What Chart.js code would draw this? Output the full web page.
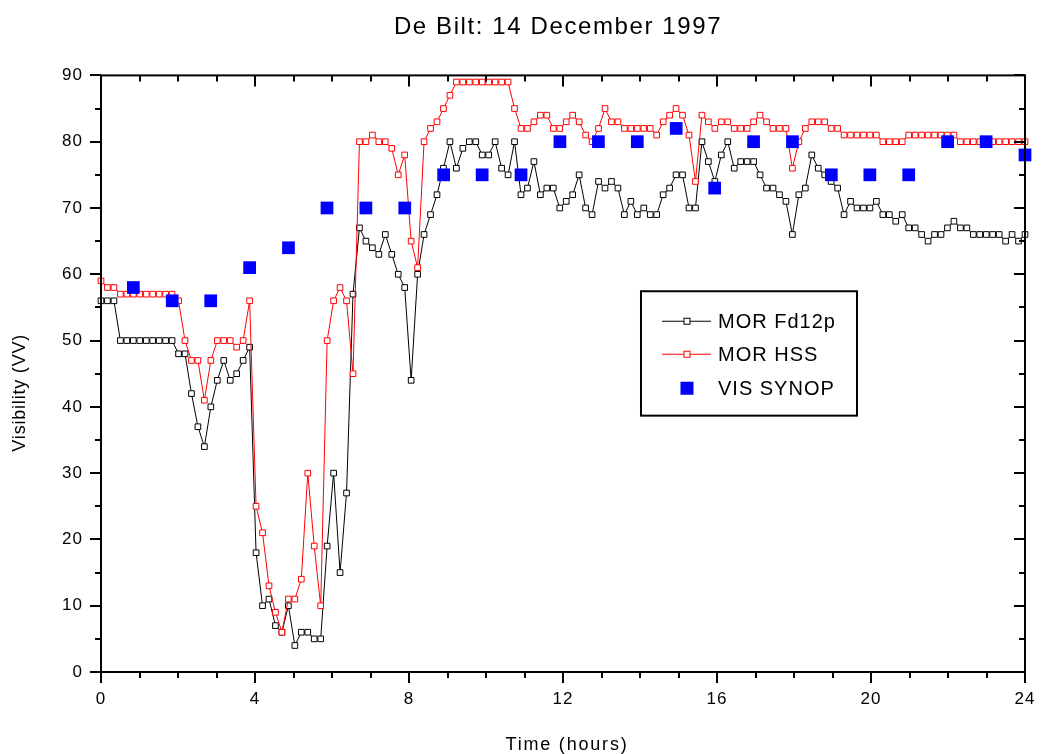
<!DOCTYPE html>
<html>
<head>
<meta charset="utf-8">
<script src="https://cdn.jsdelivr.net/npm/chart.js@4.4.0/dist/chart.umd.min.js"></script>
<style>
    html, body { margin: 0; padding: 0; background: #fff; }
</style>
</head>
<body>
<canvas id="myChart" width="1042" height="754"></canvas>
<script>
// 10-minute samples over the day
const morFd12p = [
    56, 56, 56, 50, 50, 50, 50, 50, 50, 50, 50, 50, 48, 48, 42, 37, 34, 40, 44, 47,
    44, 45, 47, 49, 18, 10, 11, 7, 6, 10, 4, 6, 6, 5, 5, 19, 30, 15, 27, 57,
    67, 65, 64, 63, 66, 63, 60, 58, 44, 60, 66, 69, 72, 76, 80, 76, 79, 80, 80, 78,
    78, 80, 76, 75, 80, 72, 73, 77, 72, 73, 73, 70, 71, 72, 75, 70, 69, 74, 73, 74,
    73, 69, 71, 69, 70, 69, 69, 72, 73, 75, 75, 70, 70, 80, 77, 74, 78, 80, 76, 77,
    77, 77, 75, 73, 73, 72, 71, 66, 72, 73, 78, 76, 75, 74, 73, 69, 71, 70, 70, 70,
    71, 69, 69, 68, 69, 67, 67, 66, 65, 66, 66, 67, 68, 67, 67, 66, 66, 66, 66, 66,
    65, 66, 65, 66
];
const morHss = [
    59, 58, 58, 57, 57, 57, 57, 57, 57, 57, 57, 57, 56, 50, 47, 47, 41, 47, 50, 50,
    50, 49, 50, 56, 25, 21, 13, 9, 6, 11, 11, 14, 30, 19, 10, 50, 56, 58, 56, 45,
    80, 80, 81, 80, 80, 79, 75, 78, 65, 61, 80, 82, 83, 85, 87, 89, 89, 89, 89, 89,
    89, 89, 89, 89, 85, 82, 82, 83, 84, 84, 82, 82, 83, 84, 83, 81, 80, 82, 85, 83,
    83, 82, 82, 82, 82, 82, 81, 83, 84, 85, 84, 81, 74, 84, 83, 82, 83, 83, 82, 82,
    82, 83, 84, 83, 82, 82, 82, 76, 80, 82, 83, 83, 83, 82, 82, 81, 81, 81, 81, 81,
    81, 80, 80, 80, 80, 81, 81, 81, 81, 81, 81, 81, 81, 80, 80, 80, 80, 80, 80, 80,
    80, 80, 80, 80
];
const stepHours = 24 / 143;

// hourly synop observations
const synopHours = [0.84, 1.85, 2.85, 3.86, 4.87, 5.87, 6.88, 7.89, 8.9, 9.9, 10.91, 11.92,
    12.92, 13.93, 14.94, 15.94, 16.95, 17.96, 18.97, 19.97, 20.98, 21.99, 22.99, 24.0];
const visSynop = [58, 56, 56, 61, 64, 70, 70, 70, 75, 75, 75, 80,
    80, 80, 82, 73, 80, 80, 75, 75, 75, 80, 80, 78];

const xTickStep = 4;
const yTickStep = 10;

const chartTitle = 'De Bilt: 14 December 1997';
const xTitle = 'Time (hours)';
const yTitle = 'Visibility (VV)';
const legendItems = ['MOR Fd12p', 'MOR HSS', 'VIS SYNOP'];

const FONT = 'Arial, "Liberation Sans", Helvetica, sans-serif';
Chart.defaults.font.family = FONT;
Chart.defaults.color = '#000';

// wider letter spacing for the tick labels
const spacing = {
    id: 'spacing',
    beforeDraw(chart) {
        chart.ctx.letterSpacing = '1px';
    }
};

// axis box, major/minor ticks (left+bottom outward, top+right inward)
const frame = {
    id: 'frame',
    afterDraw(chart) {
        const ctx = chart.ctx;
        const { left, right, top, bottom } = chart.chartArea;
        const xs = chart.scales.x, ys = chart.scales.y;
        ctx.save();
        ctx.strokeStyle = '#000';
        ctx.lineWidth = 2;
        ctx.beginPath();
        for (let h = 0; h <= 24; h++) {
            const px = Math.round(xs.getPixelForValue(h));
            const len = h % xTickStep === 0 ? 11 : 6;
            ctx.moveTo(px, bottom); ctx.lineTo(px, bottom + len);
            ctx.moveTo(px, top); ctx.lineTo(px, top + len);
        }
        for (let v = 0; v <= 90; v += 5) {
            const py = Math.round(ys.getPixelForValue(v));
            const len = v % yTickStep === 0 ? 11 : 6;
            ctx.moveTo(left - len, py); ctx.lineTo(left, py);
            ctx.moveTo(right - len, py); ctx.lineTo(right, py);
        }
        ctx.stroke();
        ctx.strokeRect(left, top, right - left, bottom - top);
        ctx.restore();
    }
};

// title and axis titles
const titles = {
    id: 'titles',
    afterDraw(chart) {
        const ctx = chart.ctx;
        const a = chart.chartArea;
        const cx = (a.left + a.right) / 2;
        ctx.save();
        ctx.fillStyle = '#000';
        ctx.textAlign = 'center';
        ctx.textBaseline = 'middle';
        ctx.letterSpacing = '1.6px';
        ctx.font = '24px ' + FONT;
        ctx.fillText(chartTitle, cx - 5, 27);
        ctx.letterSpacing = '1.8px';
        ctx.font = '18px ' + FONT;
        ctx.fillText(xTitle, cx + 4, 745);
        ctx.letterSpacing = '0.8px';
        ctx.translate(20, a.top + (a.bottom - a.top) * 0.532);
        ctx.rotate(-Math.PI / 2);
        ctx.fillText(yTitle, 0, 0);
        ctx.restore();
    }
};

// boxed legend inside the plot
const boxLegend = {
    id: 'boxLegend',
    afterDraw(chart) {
        const ctx = chart.ctx;
        const a = chart.chartArea;
        const w = a.right - a.left, h = a.bottom - a.top;
        const bx = a.left + w * 0.5844, by = a.top + h * 0.3618;
        const bw = w * 0.2338, bh = h * 0.2085;
        ctx.save();
        ctx.fillStyle = '#fff';
        ctx.fillRect(bx, by, bw, bh);
        ctx.strokeStyle = '#000';
        ctx.lineWidth = 2;
        ctx.strokeRect(bx, by, bw, bh);
        const rows = [30, 63, 97];
        const colors = ['#000', '#ff0000'];
        ctx.font = '20px ' + FONT;
        ctx.letterSpacing = '1px';
        ctx.textBaseline = 'middle';
        ctx.textAlign = 'left';
        rows.forEach((dy, k) => {
            const y = by + dy;
            const mx = bx + 46;
            if (k < 2) {
                ctx.strokeStyle = colors[k];
                ctx.lineWidth = 1;
                ctx.beginPath();
                ctx.moveTo(bx + 21, y); ctx.lineTo(bx + 70, y);
                ctx.stroke();
                ctx.fillStyle = '#fff';
                ctx.fillRect(mx - 3, y - 3, 6, 6);
                ctx.strokeRect(mx - 3, y - 3, 6, 6);
            } else {
                ctx.fillStyle = '#0000ff';
                ctx.fillRect(mx - 6.5, y - 6.5, 13, 13);
            }
            ctx.fillStyle = '#000';
            ctx.fillText(legendItems[k], bx + 77, y + 1);
        });
        ctx.restore();
    }
};

const ctx = document.getElementById('myChart');
new Chart(ctx, {
    type: 'line',
    data: {
        datasets: [
            {
                label: legendItems[0],
                data: morFd12p.map((v, i) => ({ x: i * stepHours, y: v })),
                borderColor: '#000',
                borderWidth: 1,
                pointStyle: 'rect',
                pointRadius: 4,
                pointBorderWidth: 1,
                pointBackgroundColor: '#fff',
                pointBorderColor: '#000',
                tension: 0,
                clip: false,
                order: 2
            },
            {
                label: legendItems[1],
                data: morHss.map((v, i) => ({ x: i * stepHours, y: v })),
                borderColor: '#ff0000',
                borderWidth: 1,
                pointStyle: 'rect',
                pointRadius: 4,
                pointBorderWidth: 1,
                pointBackgroundColor: '#fff',
                pointBorderColor: '#ff0000',
                tension: 0,
                clip: false,
                order: 1
            },
            {
                label: legendItems[2],
                data: synopHours.map((hr, i) => ({ x: hr, y: visSynop[i] })),
                showLine: false,
                pointStyle: 'rect',
                pointRadius: 9,
                pointBorderWidth: 0,
                pointBackgroundColor: '#0000ff',
                pointBorderColor: '#0000ff',
                clip: false,
                order: 0
            }
        ]
    },
    options: {
        responsive: false,
        animation: false,
        events: [],
        devicePixelRatio: 1,
        layout: {
            padding: { left: 0, right: 17, top: 0, bottom: 0 }
        },
        plugins: {
            legend: false,
            tooltip: { enabled: false },
            // empty title only reserves the band above the plot
            title: {
                display: true,
                text: '',
                font: { size: 22 },
                padding: { top: 14, bottom: 35 }
            }
        },
        scales: {
            x: {
                type: 'linear',
                min: 0,
                max: 24,
                afterFit(scale) {
                    scale.height = 82;
                    scale.paddingLeft = 0;
                    scale.paddingRight = 0;
                },
                ticks: { stepSize: xTickStep, font: { size: 17 }, color: '#000', padding: 17, maxRotation: 0 },
                grid: { display: false, drawTicks: false },
                border: { display: false }
            },
            y: {
                min: 0,
                max: 90,
                afterFit(scale) { scale.width = 101; },
                ticks: { stepSize: yTickStep, font: { size: 17 }, color: '#000', padding: 18 },
                grid: { display: false, drawTicks: false },
                border: { display: false }
            }
        }
    },
    plugins: [spacing, frame, titles, boxLegend]
});
</script>
</body>
</html>
